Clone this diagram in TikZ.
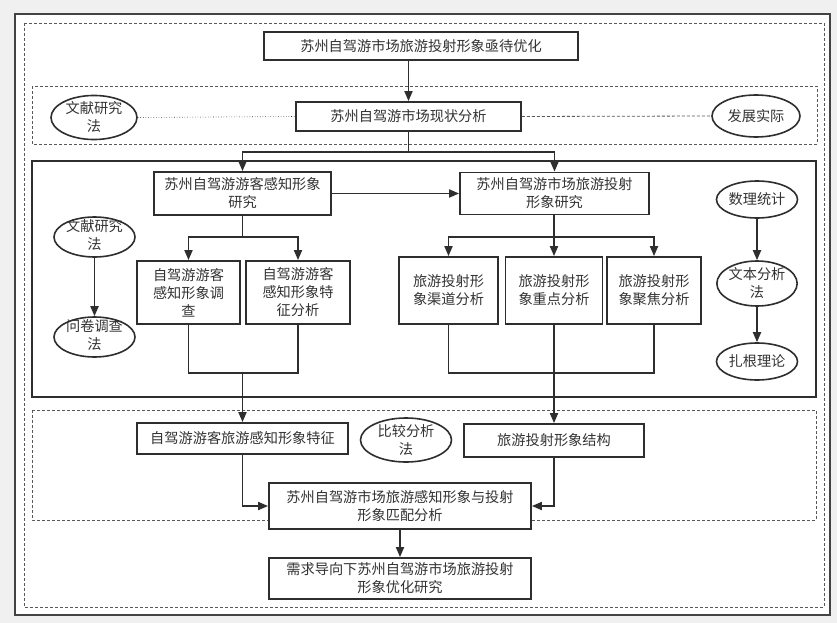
\documentclass[tikz,border=0pt]{standalone}
\usepackage{fontspec}
\newfontfamily\cjk{Noto Sans CJK SC}
\usetikzlibrary{arrows.meta,shapes.geometric}
\definecolor{ln}{HTML}{2E2E2E}
\definecolor{tx}{HTML}{333333}
\definecolor{bg}{HTML}{F0F0F0}
\begin{document}
\begin{tikzpicture}[x=1pt,y=-1pt,
  every node/.style={font=\cjk\fontsize{14.2}{18}\selectfont, text=tx, align=center, inner sep=0pt},
  box/.style={draw=ln, line width=1.8pt, rectangle, fill=white},
  ell/.style={draw=ln, line width=1.6pt, ellipse, fill=white},
  arr/.style={draw=ln, line width=1.8pt, -{Triangle[length=10pt,width=8pt]}},
  con/.style={draw=ln, line width=1.8pt},
  dbox/.style={draw=ln!80, line width=0.8pt, dash pattern=on 3pt off 2pt},
]
\useasboundingbox (0,0) rectangle (837,623);
\fill[bg] (0,0) rectangle (837,623);
\draw[ln!90, line width=2pt, fill=white] (15,14) rectangle (830,615);
\draw[dbox] (24,23) rectangle (824,607);
\draw[dbox] (32,86) rectangle (817,144);
\draw[ln, line width=1.6pt] (32,161) rectangle (816,397);
\draw[dbox] (32,410) rectangle (816,520);

% top
\node[box, minimum width=314pt, minimum height=28pt] (t0) at (421,46) {苏州自驾游市场旅游投射形象亟待优化};
\node[box, minimum width=225pt, minimum height=29pt] (s2) at (408.5,116.5) {苏州自驾游市场现状分析};
\node[ell, minimum width=86pt, minimum height=41pt] (litA) at (94,117.5) {文献研究\\法};
\node[ell, minimum width=88pt, minimum height=42pt] (dev) at (756,116) {发展实际};

% middle
\node[box, minimum width=177pt, minimum height=43pt] (p1) at (242.5,193.5) {苏州自驾游游客感知形象\\研究};
\node[box, minimum width=189pt, minimum height=42pt] (p2) at (554.5,193.5) {苏州自驾游市场旅游投射\\形象研究};
\node[ell, minimum width=81pt, minimum height=40pt] (litB) at (94.5,237) {};
\node at (94.5,235) {文献研究\\法};
\node[ell, minimum width=81pt, minimum height=40pt] (qs) at (94.5,337) {};
\node at (94.5,335) {问卷调查\\法};
\node[box, minimum width=103pt, minimum height=63pt] (a1) at (188.5,292.5) {自驾游游客\\感知形象调\\查};
\node[box, minimum width=104pt, minimum height=63pt] (a2) at (298,292.5) {自驾游游客\\感知形象特\\征分析};
\node[box, minimum width=99pt, minimum height=67pt] (b1) at (448.5,290.5) {旅游投射形\\象渠道分析};
\node[box, minimum width=97pt, minimum height=67pt] (b2) at (554,290.5) {旅游投射形\\象重点分析};
\node[box, minimum width=94pt, minimum height=67pt] (b3) at (654,290.5) {旅游投射形\\象聚焦分析};
\node[ell, minimum width=81pt, minimum height=37pt] (e1) at (757,199.5) {数理统计};
\node[ell, minimum width=80pt, minimum height=45pt] (e2) at (757,283.5) {文本分析\\法};
\node[ell, minimum width=81pt, minimum height=37pt] (e3) at (757,361.5) {扎根理论};

% bottom
\node[box, minimum width=211pt, minimum height=31pt] (c1) at (242.5,438.5) {自驾游游客旅游感知形象特征};
\node[ell, minimum width=91pt, minimum height=44pt] (ce) at (406,440) {比较分析\\法};
\node[box, minimum width=180pt, minimum height=33pt] (c2) at (554,440.5) {旅游投射形象结构};
\node[box, minimum width=262pt, minimum height=46pt] (m) at (400,506) {苏州自驾游市场旅游感知形象与投射\\形象匹配分析};
\node[box, minimum width=262pt, minimum height=41pt] (fin) at (400,578.5) {需求导向下苏州自驾游市场旅游投射\\形象优化研究};

% connectors
\draw[arr] (t0.south -| s2.north) -- (s2.north);
\draw[ln, line width=0.6pt, dotted] (litA.east) -- (s2.west);
\draw[ln!80, line width=0.8pt, dash pattern=on 3pt off 2pt] (s2.east) -- (dev.west);

\coordinate (f1) at (408.5,152);
\draw[con] (s2.south) -- (f1);
\draw[arr] (f1) -| (p1.north);
\draw[arr] (f1) -| (p2.north);
\draw[arr] (p1.east) -- (p2.west);

\coordinate (fa) at (242.5,237);
\draw[con] (p1.south) -- (fa);
\draw[arr] (fa) -| (a1.north);
\draw[arr] (fa) -| (a2.north);
\coordinate (ma) at (242.5,373);
\draw[con] (a1.south) |- (ma);
\draw[con] (a2.south) |- (ma);
\draw[arr] (ma) -- (c1.north);

\coordinate (fb) at (554,237);
\draw[con] (p2.south -| fb) -- (fb);
\draw[arr] (fb) -| (b1.north);
\draw[arr] (fb) -- (b2.north);
\draw[arr] (fb) -| (b3.north);
\coordinate (mb) at (554,373);
\draw[con] (b1.south) |- (mb);
\draw[con] (b3.south) |- (mb);
\draw[arr] (b2.south) -- (c2.north);

\draw[arr] (litB.south) -- (qs.north);
\draw[arr] (e1.south) -- (e2.north);
\draw[arr] (e2.south) -- (e3.north);

\draw[arr] (c1.south) |- (m.west);
\draw[arr] (c2.south) |- (m.east);
\draw[arr] (m.south) -- (fin.north);
\end{tikzpicture}
\end{document}
